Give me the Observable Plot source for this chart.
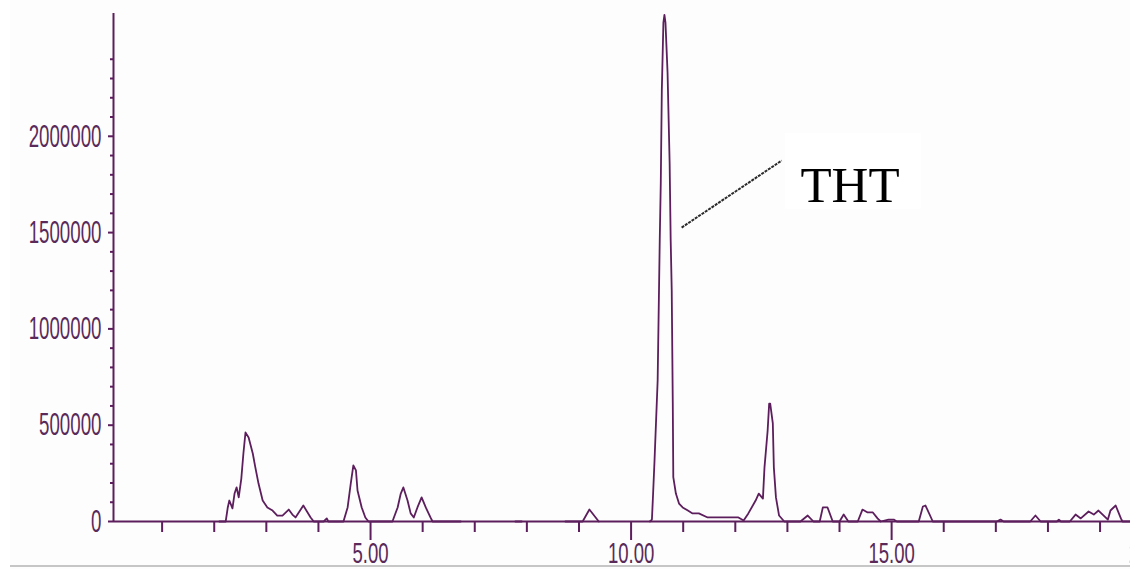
<!DOCTYPE html>
<html>
<head>
<meta charset="utf-8">
<script src="https://cdn.jsdelivr.net/npm/d3@7"></script>
<script src="https://cdn.jsdelivr.net/npm/@observablehq/plot@0.6"></script>
<style>
html, body { margin: 0; padding: 0; background: #ffffff; overflow: hidden; width: 1130px; height: 569px; }
#frame { position: absolute; left: 10px; top: 0; width: 1120px; height: 569px; background: #fdfdfd; }
#chart { position: absolute; left: 0; top: 0; width: 1160px; height: 569px; }
#chart svg { max-width: none !important; }
#bottomline { position: absolute; left: 10px; top: 565px; width: 1120px; height: 2px; background: #c6c6c6; }
</style>
</head>
<body>
<div id="frame"></div>
<div id="bottomline"></div>
<div id="chart"></div>
<script>
// ---- data: retention time (min) vs abundance ----
const segEarly = [
  [2.10, 0], [2.22, 0], [2.26, 73000], [2.29, 109000], [2.35, 68000], [2.39, 145000],
  [2.43, 177000], [2.47, 125000], [2.52, 223000], [2.56, 353000], [2.60, 462000],
  [2.66, 436000], [2.74, 353000], [2.79, 280000], [2.85, 197000], [2.93, 109000],
  [3.02, 73000], [3.12, 57000], [3.21, 31000], [3.31, 31000], [3.43, 62000], [3.50, 36000],
  [3.56, 21000], [3.71, 83000], [3.85, 21000], [3.91, 0], [4.10, 0], [4.16, 16000], [4.19, 0],
  [4.48, 0], [4.56, 73000], [4.62, 197000], [4.67, 291000], [4.72, 265000], [4.75, 161000],
  [4.83, 73000], [4.90, 21000], [4.96, 0], [5.42, 0], [5.52, 73000], [5.58, 145000],
  [5.63, 177000], [5.71, 109000], [5.77, 42000], [5.83, 21000], [5.90, 73000], [5.98, 125000],
  [6.06, 73000], [6.15, 21000], [6.19, 0], [6.73, 0]
];
const segDot = [[7.78, 0], [7.90, 0]];
const segSmall = [[8.74, 0], [9.07, 0], [9.20, 62000], [9.38, 0]];
const segMain = [
  [10.36, 0], [10.40, 10000], [10.42, 130000], [10.45, 317000], [10.51, 733000],
  [10.55, 1460000], [10.57, 1760000], [10.59, 2240000], [10.62, 2590000], [10.64, 2630000],
  [10.66, 2590000], [10.70, 2330000], [10.74, 1860000], [10.76, 1460000], [10.78, 1200000],
  [10.80, 620000], [10.81, 230000], [10.86, 145000], [10.92, 93000], [10.99, 73000],
  [11.09, 57000], [11.18, 42000], [11.30, 42000], [11.47, 21000], [12.06, 21000], [12.16, 5000],
  [12.25, 42000], [12.39, 109000], [12.45, 145000], [12.53, 119000], [12.56, 280000],
  [12.62, 470000], [12.65, 612000], [12.67, 612000], [12.72, 509000], [12.74, 280000],
  [12.78, 125000], [12.84, 31000], [12.94, 0],
  [13.25, 0], [13.39, 31000], [13.50, 0], [13.62, 0], [13.68, 73000], [13.77, 73000], [13.87, 0],
  [14.00, 0], [14.08, 36000], [14.17, 0], [14.35, 0], [14.44, 62000], [14.54, 47000],
  [14.64, 47000], [14.73, 16000], [14.79, 0], [14.94, 10000], [15.04, 10000], [15.10, 0],
  [15.52, 0], [15.60, 78000], [15.65, 83000], [15.79, 0], [17.02, 0], [17.09, 10000], [17.15, 0],
  [17.66, 0], [17.76, 31000], [17.86, 0], [18.17, 0], [18.21, 10000], [18.25, 0], [18.42, 0],
  [18.53, 36000], [18.63, 16000], [18.78, 52000], [18.88, 36000], [18.97, 57000], [19.05, 36000],
  [19.15, 10000], [19.20, 57000], [19.30, 83000], [19.40, 16000], [19.43, 0], [20.10, 0]
];

const yMajorTicks = [0, 500000, 1000000, 1500000, 2000000];
const yTickLabels = ["0", "500000", "1000000", "1500000", "2000000"];
const yMinorTicks = [100000, 200000, 300000, 400000, 600000, 700000, 800000, 900000,
  1100000, 1200000, 1300000, 1400000, 1600000, 1700000, 1800000, 1900000,
  2100000, 2200000, 2300000, 2400000];
const xMajorTicks = [5, 10, 15, 20];
const xTickLabels = ["5.00", "10.00", "15.00", "20.00"];
const xMinorTicks = [1, 2, 3, 4, 6, 7, 8, 9, 11, 12, 13, 14, 16, 17, 18, 19];

const xDomain = [0.067, 20.16];
const yDomain = [0, 2637500];

// annotation
const annoLabel = ["THT"];
const annoLeader = [{t1: 10.97, v1: 1526000, t2: 12.89, v2: 1874000}];
const annoText = [{t: 13.25, v: 1745000, label: annoLabel[0]}];
const annoBox = [{t1: 12.96, t2: 15.57, v1: 1620000, v2: 2014000}];

const traceRows = [segEarly, segDot, segSmall, segMain]
  .flatMap((seg, i) => seg.map(([t, v]) => ({t, v, seg: i})));

const purple = "#5c1e5c";
const labelPurple = "#5a2a5a";

const chart = Plot.plot({
  width: 1160,
  height: 569,
  marginLeft: 113,
  marginRight: 0,
  marginTop: 13,
  marginBottom: 48,
  style: {background: "transparent", overflow: "visible", maxWidth: "none"},
  x: {domain: xDomain, axis: null},
  y: {domain: yDomain, axis: null},
  marks: [
    Plot.rect(annoBox, {x1: "t1", x2: "t2", y1: "v1", y2: "v2", fill: "#ffffff"}),
    Plot.axisY({ticks: yMinorTicks, tickSize: 3, tickFormat: () => "", stroke: purple, strokeWidth: 2}),
    Plot.axisY({ticks: yMajorTicks, tickSize: 5, tickPadding: 7, stroke: purple, strokeWidth: 2,
      tickFormat: d => yTickLabels[yMajorTicks.indexOf(d)],
      fill: labelPurple, fontSize: 32, fontFamily: "Liberation Sans"}),
    Plot.axisX({ticks: xMinorTicks, tickSize: 11, tickFormat: () => "", stroke: purple, strokeWidth: 2}),
    Plot.axisX({ticks: xMajorTicks, tickSize: 19, tickPadding: 2, stroke: purple, strokeWidth: 2,
      tickFormat: d => xTickLabels[xMajorTicks.indexOf(d)],
      fill: labelPurple, fontSize: 29, fontFamily: "Liberation Sans"}),
    Plot.ruleX([xDomain[0]], {stroke: purple, strokeWidth: 2}),
    Plot.ruleY([0], {stroke: purple, strokeWidth: 2}),
    Plot.line(traceRows, {x: "t", y: "v", z: "seg", stroke: purple, strokeWidth: 1.8, curve: "linear"}),
    Plot.link(annoLeader, {x1: "t1", y1: "v1", x2: "t2", y2: "v2", stroke: "#2a2a2a", strokeWidth: 2, strokeDasharray: "3,1"}),
    Plot.text(annoText, {x: "t", y: "v", text: "label", textAnchor: "start", fontFamily: "Liberation Serif", fontSize: 51, fill: "#000000"})
  ]
});

// condensed look of the instrument's tick-label font
function squeeze(sel, s) {
  chart.querySelectorAll(sel).forEach(t => {
    const tr = t.getAttribute("transform");
    if (tr) {
      t.setAttribute("transform", tr + ` scale(${s},1)`);
    } else {
      const x = +(t.getAttribute("x") || 0), y = +(t.getAttribute("y") || 0);
      t.removeAttribute("x"); t.removeAttribute("y");
      t.setAttribute("transform", `translate(${x},${y}) scale(${s},1)`);
    }
  });
}
squeeze('g[aria-label="y-axis tick label"] text', 0.585);
squeeze('g[aria-label="x-axis tick label"] text', 0.64);

document.getElementById("chart").appendChild(chart);
</script>
</body>
</html>
